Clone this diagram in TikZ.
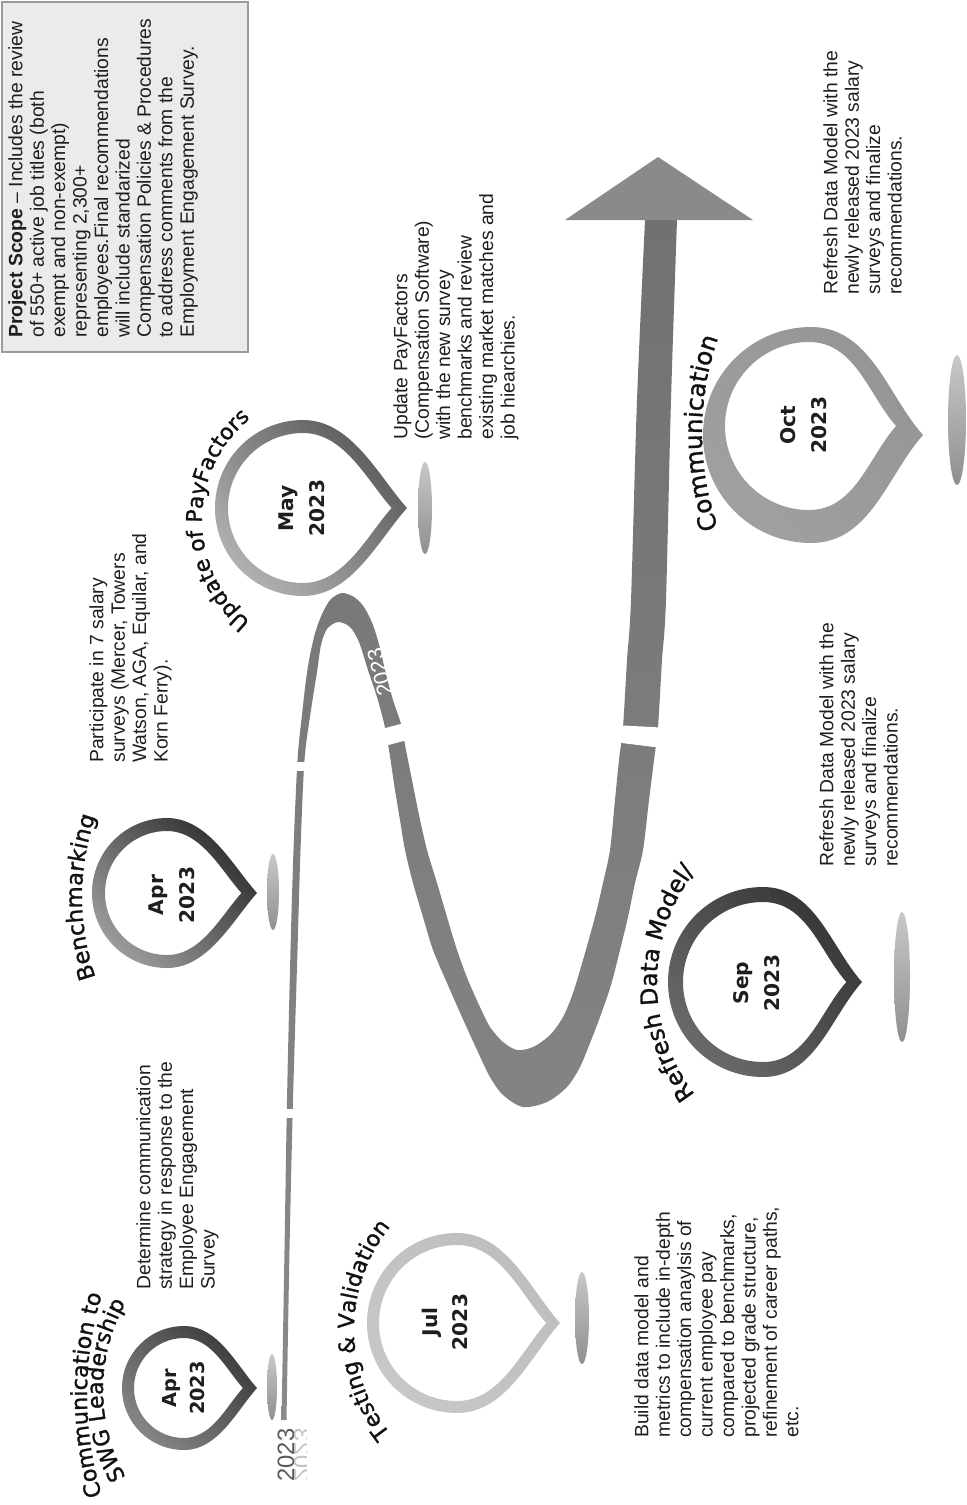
\documentclass[tikz,border=0pt]{standalone}
\usepackage{fontspec}
\setmainfont{Liberation Sans}
\newfontfamily\djv{DejaVu Sans}
\newfontfamily\djvt[FakeBold=1.2]{DejaVu Sans}
\usetikzlibrary{decorations.text}
\definecolor{ribtop}{HTML}{717171}
\definecolor{ribbot}{HTML}{8A8A8A}
\definecolor{arrowc}{HTML}{8A8A8A}
\definecolor{shadowtop}{HTML}{C8C8C8}
\definecolor{shadowbot}{HTML}{8F8F8F}
\definecolor{bodyc}{HTML}{1E1E1E}
\definecolor{datec}{HTML}{1E1E1E}
\definecolor{titlec}{HTML}{111111}
\definecolor{boxfill}{HTML}{EBEBEB}
\definecolor{boxline}{HTML}{9B9B9B}
\definecolor{yearc}{HTML}{5A5A5A}
\definecolor{reflc}{HTML}{C4C4C4}
\definecolor{swgD}{HTML}{3A3A3A}\definecolor{swgL}{HTML}{858585}
\definecolor{benD}{HTML}{2E2E2E}\definecolor{benL}{HTML}{9A9A9A}
\definecolor{mayD}{HTML}{5A5A5A}\definecolor{mayL}{HTML}{B0B0B0}
\definecolor{julD}{HTML}{BEBEBE}\definecolor{julL}{HTML}{C7C7C7}
\definecolor{sepD}{HTML}{353535}\definecolor{sepL}{HTML}{6A6A6A}
\definecolor{octD}{HTML}{959595}\definecolor{octL}{HTML}{A0A0A0}
\newcommand{\bodyf}{\fontsize{11}{12.2}\selectfont}
\newcommand{\datef}{\djv\bfseries\fontsize{11.5}{17.5}\selectfont}
% cx cy r d ri dx dy style
\newcommand{\pinring}[8]{%
 \path[#8, even odd rule]
  ({#1},{#2+#3}) arc[start angle=90,end angle=270,radius=#3]
  .. controls ({#1+0.55*#3},{#2-#3}) and ({#1+#4-0.33*#3},{#2-0.37*#3}) .. ({#1+#4},{#2})
  .. controls ({#1+#4-0.33*#3},{#2+0.37*#3}) and ({#1+0.55*#3},{#2+#3}) .. ({#1},{#2+#3}) -- cycle
  ({#1+#6},{#2+#7+#5}) arc[start angle=90,end angle=270,radius=#5]
  .. controls ({#1+#6+0.55*#5},{#2+#7-#5}) and ({#1+#6+#4*#5/#3-0.33*#5},{#2+#7-0.37*#5}) .. ({#1+#6+#4*#5/#3},{#2+#7})
  .. controls ({#1+#6+#4*#5/#3-0.33*#5},{#2+#7+0.37*#5}) and ({#1+#6+0.55*#5},{#2+#7+#5}) .. ({#1+#6},{#2+#7+#5}) -- cycle;
}
\begin{document}
\begin{tikzpicture}[x=0.02cm,y=0.02cm,
  body/.style={rotate=90, anchor=north west, align=left, inner sep=0pt, font=\bodyf, text=bodyc},
  datelbl/.style={rotate=90, align=center, inner sep=0pt, font=\datef, text=datec},
  shadowell/.style={top color=shadowtop, bottom color=shadowbot},
  gapfill/.style={fill=white},
  titlepath/.style={decorate, decoration={text along path, text align=center, text={#1}}}
]
\useasboundingbox (0,0) rectangle (967,-1505);

% ---------- ribbon ----------
\shade[top color=ribtop, bottom color=ribbot]
 plot[smooth, tension=0.5] coordinates {(281.5,-1420) (284.5,-1250) (287,-1100) (290.5,-950) (293.5,-850) (297.5,-760) (302,-715) (306,-680) (310,-655) (316,-630) (323,-612) (331,-599) (342,-593) (354,-597) (364,-607) (373,-625) (380,-648) (385,-670) (393,-700) (401,-724) (406,-750) (412,-780) (419,-815) (427,-850) (437,-883) (447,-917) (457,-950) (468,-980) (480,-1007) (490,-1027) (503,-1042) (517,-1050) (533,-1047) (550,-1035) (563,-1017) (573,-993) (583,-960) (595,-917) (603,-883) (610,-850) (615,-800) (619,-760) (623,-727) (627,-660) (631,-600) (637,-400) (645,-220)}
 -- plot[smooth, tension=0.5] coordinates {(677,-220) (671,-400) (666,-600) (662,-660) (658,-727) (654,-760) (649,-800) (643,-850) (635,-883) (628,-917) (620,-950) (611,-985) (600,-1017) (590,-1043) (580,-1067) (567,-1087) (547,-1102) (523,-1107) (503,-1095) (490,-1077) (477,-1050) (462,-1017) (447,-983) (433,-950) (423,-917) (413,-883) (405,-850) (400,-820) (395,-790) (389,-750) (384,-723) (377,-697) (368,-670) (359,-642) (350,-627) (338,-622) (327,-629) (321,-645) (317,-672) (311,-710) (304.5,-760) (300.5,-850) (297.5,-950) (293,-1100) (289.5,-1250) (286.5,-1420)}
 -- cycle;
% arrow head
\fill[arrowc] (565,-220) -- (753,-220) -- (658,-157) -- cycle;
% gaps
\fill[gapfill] (276,-1109) rectangle (300,-1118);
\fill[gapfill] (288,-762) rectangle (315,-771);
\fill[gapfill] (374,-731) -- (412,-721) -- (415,-738) -- (377,-748) -- cycle;
\fill[gapfill] (614,-725) -- (670,-728) -- (670,-749) -- (614,-742) -- cycle;
% year on ribbon
\node[rotate=104, text=white, inner sep=0pt, font=\fontsize{12.5}{12.5}\selectfont] (ribyear) at (380,-672) {2023};
% start year + reflection
\node[rotate=90, anchor=base, inner sep=0pt, text=yearc, font=\fontsize{13.5}{14}\selectfont] (startyear) at (294,-1455) {2023};
\begin{scope}
 \clip (294,-1415) rectangle (306,-1500);
 \node[rotate=90, anchor=base, inner sep=0pt, text=reflc, font=\fontsize{13.5}{14}\selectfont] (startyearrefl) at (294,-1455) {\scalebox{1}[-1]{2023}};
\end{scope}

% ---------- project scope box ----------
\path[fill=boxfill, draw=boxline, line width=0.7pt] (2,-2) rectangle (248,-352);
\node[body] (scope) at (8,-338) {\textbf{Project Scope} -- Includes the review\\of 550+ active job titles (both\\exempt and non-exempt)\\representing 2,300+\\employees.Final recommendations\\will include standarized\\Compensation Policies \& Procedures\\to address comments from the\\Employment Engagement Survey.};

% ---------- pins ----------
\pinring{184}{-1388}{62}{73}{50}{0}{0}{top color=swgD, bottom color=swgL, shading angle=-45}
\pinring{167}{-893}{75}{90}{62}{0}{0}{top color=benD, bottom color=benL, shading angle=-45}
\pinring{303}{-508}{88}{104}{75}{0}{0}{top color=mayD, bottom color=mayL, shading angle=-45}
\pinring{457}{-1323}{90}{103}{78}{0}{0}{top color=julD, bottom color=julL, shading angle=-45}
\pinring{763}{-982}{95}{99}{80}{0}{0}{top color=sepD, bottom color=sepL, shading angle=-45}
\pinring{811}{-435}{108}{112}{84}{-2}{9}{top color=octD, bottom color=octL, shading angle=-45}

% shadows
\shade[shadowell] (272,-1387) ellipse [x radius=5, y radius=33];
\shade[shadowell] (273,-892) ellipse [x radius=6, y radius=38];
\shade[shadowell] (425,-508) ellipse [x radius=7, y radius=46];
\shade[shadowell] (582,-1318) ellipse [x radius=7, y radius=46];
\shade[shadowell] (902,-977) ellipse [x radius=8, y radius=65];
\shade[shadowell] (957,-420) ellipse [x radius=9, y radius=65];

% dates
\node[datelbl, font=\djv\bfseries\fontsize{11}{16}\selectfont] (dswg) at (184,-1388) {Apr\\2023};
\node[datelbl] (dben) at (172,-895) {Apr\\2023};
\node[datelbl] (dmay) at (302,-508) {May\\2023};
\node[datelbl] (djul) at (445,-1322) {Jul\\2023};
\node[datelbl] (dsep) at (757,-983) {Sep\\2023};
\node[datelbl] (doct) at (804,-425) {Oct\\2023};

% titles along arcs
\path[titlepath={|\djvt\fontsize{12.6}{15}\selectfont\color{titlec}|Communication to}] ([shift={(205:345)}]432,-1395) arc[start angle=205, end angle=155, radius=345];
\path[titlepath={|\djvt\fontsize{12.6}{15}\selectfont\color{titlec}|SWG Leadership}] ([shift={(220:178)}]281,-1390) arc[start angle=220, end angle=140, radius=178];
\path[titlepath={|\djvt\fontsize{12.9}{15}\selectfont\color{titlec}|Benchmarking}] ([shift={(210:244)}]326,-897) arc[start angle=210, end angle=150, radius=244];
\path[titlepath={|\djvt\fontsize{12.4}{15}\selectfont\color{titlec}|Update of PayFactors}] ([shift={(240:131)}]333,-520) arc[start angle=240, end angle=120, radius=131];
\path[titlepath={|\djvt\fontsize{12.6}{15}\selectfont\color{titlec}|Testing {\&} Validation}] ([shift={(230:165)}]519,-1330) arc[start angle=230, end angle=130, radius=165];
\path[titlepath={|\djvt\fontsize{13.4}{16}\selectfont\color{titlec}|Refresh Data Model/}] ([shift={(230:183)}]840,-983) arc[start angle=230, end angle=130, radius=183];
\path[titlepath={|\djvt\fontsize{14}{17}\selectfont\color{titlec}|Communication}] ([shift={(210:287)}]989,-433) arc[start angle=210, end angle=150, radius=287];

% ---------- descriptions ----------
\node[body] (tswg) at (136,-1290) {Determine communication\\strategy in response to the\\Employee Engagement\\Survey};
\node[body] (tben) at (89,-763) {Participate in 7 salary\\surveys (Mercer, Towers\\Watson, AGA, Equilar, and\\Korn Ferry).};
\node[body] (tmay) at (393,-440) {Update PayFactors\\(Compensation Software)\\with the new survey\\benchmarks and review\\existing market matches and\\job hiearchies.};
\node[body] (tjul) at (634,-1438) {Build data model and\\metrics to include in-depth\\compensation anaylsis of\\current employee pay\\compared to benchmarks,\\projected grade structure,\\refinement of career paths,\\etc.};
\node[body] (tsep) at (819,-867) {Refresh Data Model with the\\newly released 2023 salary\\surveys and finalize\\recommendations.};
\node[body] (toct) at (823,-295) {Refresh Data Model with the\\newly released 2023 salary\\surveys and finalize\\recommendations.};
\end{tikzpicture}
\end{document}
